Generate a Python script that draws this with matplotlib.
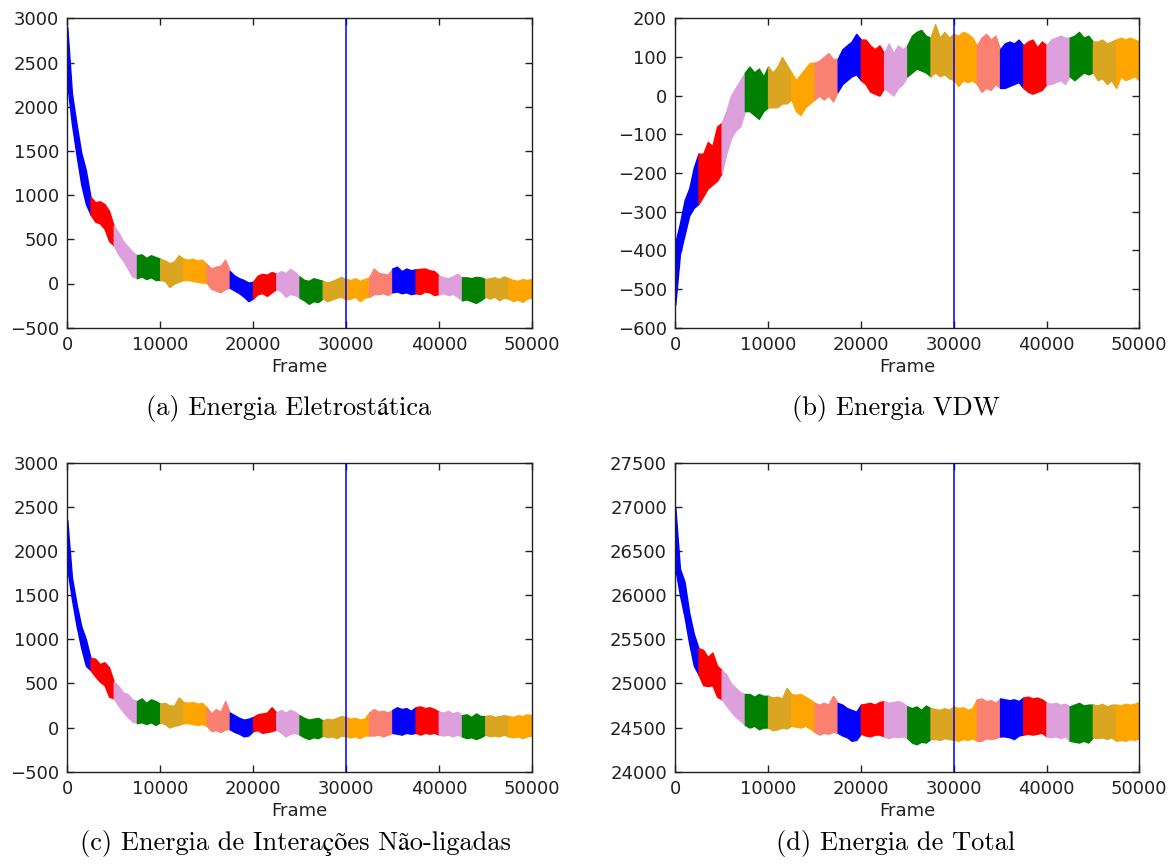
import numpy as np
import matplotlib
matplotlib.use("Agg")
import matplotlib.pyplot as plt

# Sampling grid of the energy envelopes (one value every 500 frames)
frames = np.arange(0, 50001, 500)
segment_len = 2500
segment_colors = ["blue", "red", "plum", "green", "goldenrod", "orange", "salmon"]
cut_frame = 30000

# (a) electrostatic energy: upper / lower envelope of the trajectory
elec_upper = [2900, 2150, 1800, 1480, 1280, 980,
              920, 930, 900, 820, 650,
              580, 480, 420, 360, 320,
              330, 290, 320, 300, 280,
              260, 230, 250, 320, 280,
              270, 280, 260, 270, 220,
              170, 190, 200, 270, 140,
              90, 60, 40, 10, 20,
              90, 110, 100, 130, 110,
              140, 120, 165, 130, 80,
              40, 30, 60, 45, 30,
              10, 30, 50, 75, 50,
              40, 60, 30, 50, 70,
              170, 120, 110, 100, 170,
              190, 140, 170, 150, 160,
              165, 170, 150, 140, 90,
              70, 60, 80, 110, 70,
              70, 60, 75, 70, 50,
              60, 70, 50, 80, 60,
              40, 30, 50, 40, 50]
elec_lower = [2250, 1800, 1450, 1120, 900, 780,
              700, 680, 620, 480, 430,
              330, 260, 170, 80, 60,
              80, 50, 70, 40, 40,
              30, -40, 0, 20, 40,
              40, 30, 20, 10, 10,
              -60, -80, -100, -60, -50,
              -80, -110, -150, -200, -170,
              -120, -110, -140, -100, -60,
              -90, -150, -120, -130, -160,
              -190, -230, -200, -210, -170,
              -200, -180, -160, -150, -180,
              -170, -150, -200, -160, -150,
              -120, -120, -110, -130, -100,
              -90, -110, -100, -120, -110,
              -120, -90, -100, -130, -120,
              -110, -130, -120, -150, -190,
              -180, -200, -220, -190, -150,
              -170, -150, -190, -160, -170,
              -200, -180, -210, -170, -160]

# (b) van der Waals energy
vdw_upper = [-380, -330, -270, -240, -185, -150,
             -150, -120, -130, -80, -70,
             -40, 0, 20, 40, 60,
             75, 60, 70, 50, 75,
             60, 75, 100, 80, 60,
             40, 55, 70, 85, 85,
             90, 100, 110, 95, 95,
             120, 130, 140, 160, 145,
             145, 130, 120, 130, 110,
             135, 110, 130, 120, 130,
             155, 165, 170, 155, 150,
             185, 150, 165, 150, 160,
             155, 165, 160, 150, 130,
             150, 160, 145, 155, 120,
             135, 140, 135, 145, 130,
             140, 145, 125, 140, 130,
             145, 150, 155, 150, 150,
             155, 165, 150, 155, 140,
             140, 145, 135, 140, 145,
             150, 145, 150, 145, 140]
vdw_lower = [-540, -410, -360, -310, -290, -280,
             -260, -240, -230, -220, -200,
             -150, -110, -90, -80, -40,
             -40, -50, -60, -40, -30,
             -30, -30, -20, -20, -10,
             -40, -50, -30, -20, -10,
             0, -10, 0, -15, 10,
             30, 40, 50, 55, 40,
             30, 10, 5, 0, 20,
             10, 0, 20, 30, 50,
             60, 70, 65, 60, 50,
             60, 50, 55, 45, 40,
             25, 40, 35, 40, 30,
             10, 20, 15, 30, 20,
             20, 25, 30, 35, 20,
             10, 5, 10, 15, 30,
             30, 35, 40, 30, 50,
             40, 50, 60, 55, 60,
             40, 45, 30, 40, 20,
             50, 40, 45, 50, 40]

# (c) non-bonded interaction energy
nb_upper = [2350, 1700, 1400, 1150, 1000, 790,
            780, 720, 740, 680, 520,
            470, 400, 380, 320, 300,
            330, 280, 320, 300, 270,
            280, 250, 250, 340, 290,
            280, 290, 270, 280, 230,
            160, 210, 180, 300, 170,
            140, 110, 90, 100, 120,
            150, 160, 170, 230, 170,
            200, 170, 200, 180, 140,
            110, 90, 100, 110, 80,
            100, 90, 110, 130, 120,
            100, 110, 90, 100, 170,
            210, 180, 190, 170, 200,
            230, 210, 220, 190, 230,
            240, 220, 230, 210, 180,
            170, 190, 160, 180, 140,
            150, 120, 160, 130, 130,
            140, 120, 130, 140, 130,
            120, 140, 130, 150, 140]
nb_lower = [1800, 1450, 1150, 900, 700, 650,
            580, 520, 480, 350, 330,
            250, 180, 120, 70, 50,
            60, 40, 60, 30, 60,
            40, 0, 20, 30, 50,
            50, 40, 30, 40, 20,
            -40, -30, -50, -20, -20,
            -50, -70, -100, -90, -40,
            -30, -60, -50, -40, -20,
            -60, -100, -70, -60, -80,
            -110, -130, -110, -120, -90,
            -110, -100, -120, -90, -100,
            -110, -100, -120, -90, -90,
            -90, -80, -100, -80, -60,
            -70, -80, -60, -70, -60,
            -80, -60, -70, -60, -80,
            -90, -80, -100, -80, -100,
            -120, -110, -130, -110, -80,
            -100, -90, -100, -80, -100,
            -110, -100, -120, -100, -90]

# (d) total energy
tot_upper = [27000, 26300, 26150, 25800, 25560, 25400,
             25380, 25300, 25350, 25200, 25150,
             25100, 25000, 24950, 24900, 24880,
             24880, 24850, 24880, 24860, 24860,
             24840, 24850, 24830, 24950, 24880,
             24870, 24880, 24850, 24820, 24780,
             24760, 24780, 24760, 24860, 24780,
             24760, 24720, 24700, 24680, 24760,
             24770, 24780, 24760, 24790, 24800,
             24780, 24790, 24800, 24780, 24740,
             24720, 24740, 24700, 24750, 24720,
             24710, 24700, 24720, 24700, 24740,
             24720, 24730, 24700, 24720, 24820,
             24830, 24800, 24810, 24780, 24830,
             24820, 24810, 24820, 24800, 24840,
             24850, 24830, 24840, 24820, 24780,
             24770, 24780, 24760, 24770, 24740,
             24760, 24780, 24750, 24760, 24760,
             24750, 24770, 24740, 24760, 24760,
             24750, 24770, 24760, 24770, 24790]
tot_lower = [26300, 26000, 25750, 25450, 25200, 25100,
             24980, 24970, 24980, 24850, 24820,
             24750, 24680, 24620, 24580, 24530,
             24500, 24520, 24480, 24500, 24500,
             24470, 24480, 24500, 24490, 24520,
             24510, 24500, 24520, 24490, 24450,
             24420, 24440, 24430, 24450, 24440,
             24410, 24390, 24350, 24360, 24430,
             24410, 24400, 24420, 24420, 24400,
             24380, 24400, 24390, 24400, 24380,
             24330, 24310, 24340, 24330, 24370,
             24370, 24360, 24380, 24370, 24360,
             24350, 24370, 24360, 24380, 24350,
             24350, 24380, 24370, 24380, 24400,
             24400, 24390, 24370, 24410, 24420,
             24430, 24420, 24430, 24440, 24400,
             24390, 24400, 24380, 24400, 24350,
             24340, 24330, 24350, 24330, 24390,
             24380, 24390, 24370, 24390, 24350,
             24360, 24350, 24370, 24360, 24380]

captions = ["(a) Energia Eletrostática", "(b) Energia VDW",
            "(c) Energia de Interações Não-ligadas", "(d) Energia de Total"]
x_label = "Frame"
x_ticks = [0, 10000, 20000, 30000, 40000, 50000]

panels = [
    (elec_upper, elec_lower, (-500, 3000), 500),
    (vdw_upper, vdw_lower, (-600, 200), 100),
    (nb_upper, nb_lower, (-500, 3000), 500),
    (tot_upper, tot_lower, (24000, 27500), 500),
]

W, H = 1176, 866
fig = plt.figure(figsize=(W / 100, H / 100), dpi=100, facecolor="white")

# axes boxes in pixels: left, top, right, bottom
boxes = [(67.3, 18.3, 531.7, 327.7), (675.3, 18.3, 1139.3, 327.7),
         (67.3, 462.7, 531.7, 771.7), (675.3, 462.7, 1139.3, 771.7)]
caption_pos = [(289, 415), (896, 415), (295, 850), (896, 850)]

ink = "#222222"
samples_per_seg = segment_len // 500

for k, ((up, lo, ylim, ystep), box) in enumerate(zip(panels, boxes)):
    l, t, r, b = box
    ax = fig.add_axes([l / W, 1 - b / H, (r - l) / W, (b - t) / H])
    up = np.asarray(up, float)
    lo = np.asarray(lo, float)
    n_seg = (len(frames) - 1) // samples_per_seg
    for s in range(n_seg):
        sl = slice(s * samples_per_seg, (s + 1) * samples_per_seg + 1)
        c = segment_colors[s % len(segment_colors)]
        ax.fill_between(frames[sl], lo[sl], up[sl], color=c, lw=1.0,
                        edgecolor=c, zorder=2)
    ax.axvline(cut_frame, color="blue", lw=1.1, zorder=3)
    ax.set_xlim(0, 50000)
    ax.set_ylim(*ylim)
    ax.set_xticks(x_ticks)
    ax.set_yticks(np.arange(ylim[0], ylim[1] + 1, ystep))
    ax.tick_params(direction="in", top=True, right=True, length=5, width=1,
                   labelsize=13, pad=6, colors=ink)
    for sp in ax.spines.values():
        sp.set_color(ink)
        sp.set_linewidth(1.0)
    ax.set_xlabel(x_label, fontsize=13, color=ink, labelpad=3)
    cx, cy = caption_pos[k]
    fig.text(cx / W, 1 - cy / H, captions[k], ha="center", va="baseline",
             fontsize=19, family=["cmr10", "STIXGeneral"], color="black")

fig.savefig("out.png", dpi=100, facecolor="white")
